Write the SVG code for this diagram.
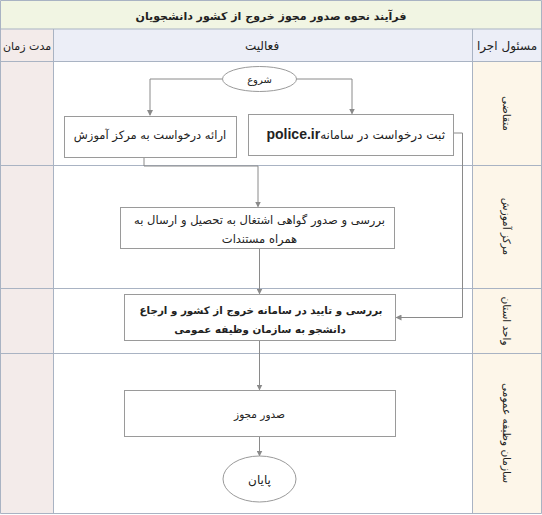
<svg xmlns="http://www.w3.org/2000/svg" width="542" height="515" viewBox="0 0 542 515">
<defs>
<style>
.ttl{fill:#f1f5e3}
.hdr{fill:#eceef7}
.lcol{fill:#f3ebea}
.rcol{fill:#fdf6e9}
.grid{stroke:#a9b3c3;stroke-width:1;fill:none}
.node{fill:#ffffff;stroke:#9a9a9a;stroke-width:1}
.conn{fill:none;stroke:#8a8a8a;stroke-width:1;marker-end:url(#arr)}
text{font-family:"DejaVu Sans","Noto Sans",sans-serif;fill:#222222;direction:rtl}
.t12{font-size:12px;text-anchor:middle}
.lane{font-size:10.5px;text-anchor:middle}
.bold{font-weight:bold}
</style>
<marker id="arr" markerWidth="6" markerHeight="6" refX="5" refY="3" orient="auto" markerUnits="userSpaceOnUse">
<path d="M0,0 L6,3 L0,6 Z" fill="#8a8a8a"/>
</marker>
</defs>

<g id="table">
<rect class="ttl" x="0.5" y="0.5" width="541" height="28.5"/>
<rect class="lcol" x="0.5" y="29" width="53" height="33"/>
<rect class="hdr" x="53.5" y="29" width="419" height="33"/>
<rect class="hdr" x="472.5" y="29" width="69" height="33"/>
<rect class="lcol" x="0.5" y="62" width="53" height="451"/>
<rect x="53.5" y="62" width="419" height="451" fill="#ffffff"/>
<rect class="rcol" x="472.5" y="62" width="69" height="451"/>
<path class="grid" d="M0.5,0.5 H541.5 V513.5 H0.5 Z M0.5,29 H541.5 M0.5,61.5 H541.5 M0.5,165.5 H541.5 M0.5,288.5 H541.5 M0.5,353.5 H541.5 M53.5,29 V513.5 M472.5,29 V513.5"/>
<text x="271" y="20" font-size="11" class="bold" text-anchor="middle">فرآیند نحوه صدور مجوز خروج از کشور دانشجویان</text>
<text x="27" y="50" font-size="11" text-anchor="middle">مدت زمان</text>
<text x="262" y="50" class="t12">فعالیت</text>
<text x="507" y="50" class="t12">مسئول اجرا</text>
<text class="lane" transform="translate(503,113.5) rotate(90)">متقاضی</text>
<text class="lane" transform="translate(503,226.5) rotate(90)">مرکز آموزش</text>
<text class="lane" transform="translate(503,321) rotate(90)">واحد استان</text>
<text class="lane" transform="translate(503,433) rotate(90)">سازمان وظیفه عمومی</text>
</g>

<g id="connectors">
<path class="conn" d="M222,79 H150 V115"/>
<path class="conn" d="M296,79 H352 V113.5"/>
<path class="conn" d="M144,157 V166 H258 V206.5"/>
<path class="conn" d="M453,133 H462.5 V317.5 H396.5"/>
<path class="conn" d="M259.5,248 V293.5"/>
<path class="conn" d="M259.5,340 V389.5"/>
<path class="conn" d="M259.5,436 V455.5"/>
</g>

<g id="start">
<ellipse class="node" cx="259.5" cy="79" rx="37" ry="12.5"/>
<text x="259.5" y="83" font-size="10" text-anchor="middle">شروع</text>
</g>

<g id="submit-edu">
<rect class="node" x="64.5" y="116.5" width="172" height="41"/>
<text x="150" y="139" font-size="11.5" text-anchor="middle">ارائه درخواست به مرکز آموزش</text>
</g>

<g id="register-police">
<rect class="node" x="248.5" y="114.5" width="205" height="41"/>
<text x="445" y="139" font-size="12" text-anchor="start">ثبت درخواست در سامانه<tspan font-weight="bold" font-size="14" font-family="Liberation Sans, Arial, sans-serif">police.ir</tspan></text>
</g>

<g id="edu-review">
<rect class="node" x="120.5" y="207.5" width="274" height="41"/>
<text x="259.5" y="224" font-size="11.5" text-anchor="middle">بررسی و صدور گواهی اشتغال به تحصیل و ارسال به</text>
<text x="259.5" y="243" font-size="11.5" text-anchor="middle">همراه مستندات</text>
</g>

<g id="province-review">
<rect class="node" x="124.5" y="294.5" width="271" height="46"/>
<text x="261" y="314" font-size="10.3" class="bold" text-anchor="middle">بررسی و تایید در سامانه خروج از کشور و ارجاع</text>
<text x="260" y="333" font-size="10.3" class="bold" text-anchor="middle">دانشجو به سازمان وظیفه عمومی</text>
</g>

<g id="issue">
<rect class="node" x="124.5" y="390.5" width="271" height="46"/>
<text x="259.5" y="418" font-size="10.5" text-anchor="middle">صدور مجوز</text>
</g>

<g id="end">
<ellipse class="node" cx="259.5" cy="479" rx="36.5" ry="23"/>
<text x="259.5" y="484" font-size="12" text-anchor="middle">پایان</text>
</g>
</svg>
